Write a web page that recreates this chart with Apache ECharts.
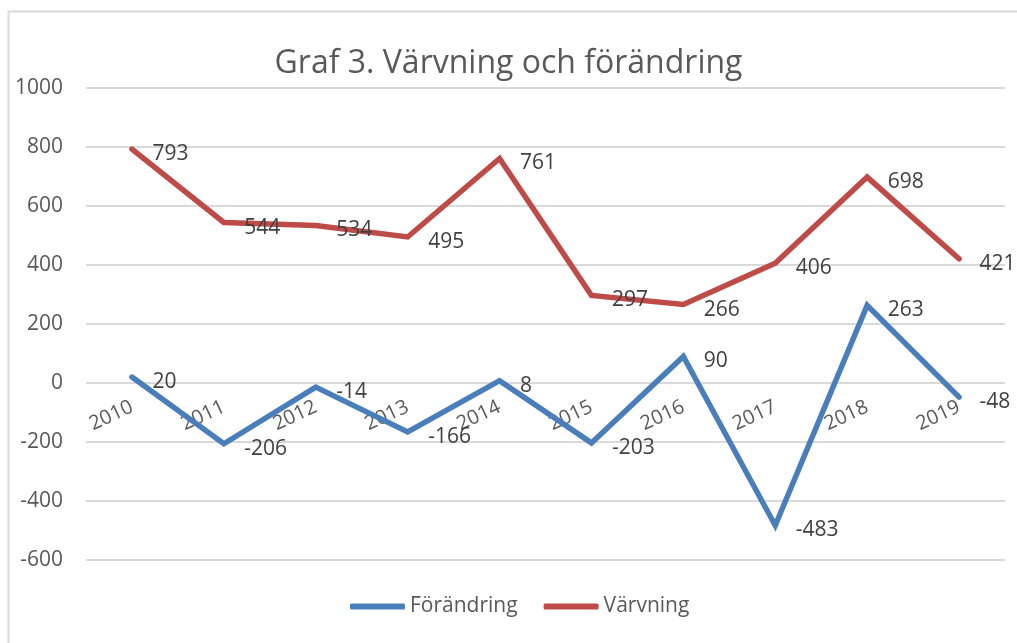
<!DOCTYPE html>
<html><head><meta charset="utf-8">
<script src="https://cdn.jsdelivr.net/npm/echarts@6/dist/echarts.min.js"></script>
<style>html,body{margin:0;padding:0;background:#fff}#c{width:1017px;height:643px}</style>
</head><body><div id="c"></div>
<script>
var years = ['2010','2011','2012','2013','2014','2015','2016','2017','2018','2019'];
var forandring = [20, -206, -14, -166, 8, -203, 90, -483, 263, -48];
var varvning = [793, 544, 534, 495, 761, 297, 266, 406, 698, 421];
var yTicks = {min: -600, max: 1000, interval: 200};

var FONT = '"Open Sans", Lato, sans-serif';
var TXT = '#595959';
var GRID = {left: 86, right: 12, top: 88, bottom: 83};
var plotH = 643 - GRID.top - GRID.bottom;
// shift the category axis up to where the value axis crosses zero
var zeroOffset = -Math.round((0 - yTicks.min) / (yTicks.max - yTicks.min) * plotH);

var chart = echarts.init(document.getElementById('c'));
function lbl(){
  return {show: true, position: 'right', distance: 20, offset: [0, 5], fontSize: 21, color: '#404040', fontFamily: FONT};
}
chart.setOption({
  animation: false,
  graphic: [{type: 'rect', shape: {x: 8.5, y: 11.5, width: 1020, height: 640}, style: {fill: 'none', stroke: '#d9d9d9', lineWidth: 2}}],
  title: {text: 'Graf 3. Värvning och förändring', left: 'center', top: 43,
    textStyle: {fontSize: 32, fontWeight: 'normal', color: TXT, fontFamily: FONT}},
  legend: {bottom: 21, left: 345, itemWidth: 55, itemHeight: 6, itemGap: 26, icon: 'roundRect',
    textStyle: {fontSize: 21, color: TXT, fontFamily: FONT, padding: [0,0,0,0]},
    data: ['Förändring', 'Värvning']},
  grid: {left: GRID.left, right: GRID.right, top: GRID.top, bottom: GRID.bottom, containLabel: false},
  xAxis: {type: 'category', data: years, boundaryGap: true, position: 'bottom', offset: zeroOffset, z: 0,
    axisLine: {show: false, onZero: false}, axisTick: {show: false},
    axisLabel: {rotate: 25, margin: 23, fontSize: 20, color: TXT, fontFamily: FONT}},
  yAxis: {type: 'value', min: yTicks.min, max: yTicks.max, interval: yTicks.interval,
    axisLine: {show: false}, axisTick: {show: false},
    axisLabel: {fontSize: 21, color: TXT, fontFamily: FONT, margin: 23, formatter: function(v){return String(v);}},
    splitLine: {lineStyle: {color: '#d9d9d9', width: 2}}},
  series: [
    {name: 'Förändring', type: 'line', data: forandring, symbol: 'circle', symbolSize: 1, showSymbol: true, z: 5,
      lineStyle: {color: '#4a7ebb', width: 5.5, cap: 'round', join: 'miter'}, itemStyle: {color: '#4a7ebb'}, label: lbl()},
    {name: 'Värvning', type: 'line', data: varvning, symbol: 'circle', symbolSize: 1, showSymbol: true, z: 5,
      lineStyle: {color: '#be4b48', width: 5.5, cap: 'round', join: 'miter'}, itemStyle: {color: '#be4b48'}, label: lbl()}
  ]
});
</script></body></html>
